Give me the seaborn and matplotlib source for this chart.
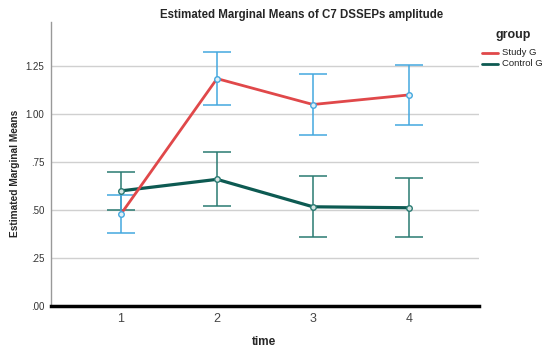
import pandas as pd
import seaborn as sns
import matplotlib.pyplot as plt

times = [1, 2, 3, 4]
groups = ['Study G', 'Control G']
study_mean = [0.48, 1.185, 1.05, 1.10]
study_low = [0.38, 1.045, 0.89, 0.945]
study_high = [0.58, 1.325, 1.21, 1.255]
control_mean = [0.60, 0.66, 0.517, 0.512]
control_low = [0.50, 0.52, 0.361, 0.358]
control_high = [0.70, 0.80, 0.677, 0.667]
y_ticks = [0, 0.25, 0.5, 0.75, 1.0, 1.25]
y_labels = ['.00', '.25', '.50', '.75', '1.00', '1.25']

sns.set_theme(style='white')
plt.rcParams['font.family'] = ['Liberation Sans', 'DejaVu Sans']

df = pd.DataFrame({
    'time': times * 2,
    'mean': study_mean + control_mean,
    'group': [groups[0]] * 4 + [groups[1]] * 4,
})

line_colors = {'Study G': '#e0484a', 'Control G': '#0d5a52'}
err_colors = {'Study G': '#44a8df', 'Control G': '#2a7a72'}
line_widths = {'Study G': 2.0, 'Control G': 2.3}

fig = plt.figure(figsize=(5.5, 3.53), dpi=100)
ax = fig.add_axes([51 / 550, 47 / 353, 428 / 550, 284 / 353])

# error bars first, lines on top
ci = {'Study G': (study_mean, study_low, study_high),
      'Control G': (control_mean, control_low, control_high)}
for g in ['Control G', 'Study G']:
    m, lo, hi = ci[g]
    ax.errorbar(times, m, yerr=[[a - b for a, b in zip(m, lo)], [b - a for a, b in zip(m, hi)]],
                fmt='none', ecolor=err_colors[g], elinewidth=1.1, capsize=10, capthick=1.1, zorder=2)

for g in ['Control G', 'Study G']:
    sub = df[df['group'] == g]
    sns.lineplot(data=sub, x='time', y='mean', color=line_colors[g],
                 linewidth=line_widths[g], ax=ax, legend=False, zorder=3)
for g in groups:
    m = ci[g][0]
    ax.plot(times, m, 'o', ms=4, mfc='#dfeff8' if g == 'Study G' else '#d5e6e3',
            mec=err_colors[g], mew=1.0, zorder=4)

ax.set_xlim(0.27, 4.73)
ax.set_ylim(0, 1.48)
ax.set_xticks(times)
ax.set_xticklabels([str(t) for t in times], fontsize=9, color='#444444')
ax.set_yticks(y_ticks)
ax.set_yticklabels(y_labels, fontsize=7, color='#333333')
ax.tick_params(axis='both', length=0, pad=5)
ax.yaxis.grid(True, color='#d0d0d0', linewidth=1.0)
ax.set_axisbelow(True)

for s in ['top', 'right']:
    ax.spines[s].set_visible(False)
ax.spines['left'].set_color('#999999')
ax.spines['left'].set_linewidth(1.0)
ax.spines['bottom'].set_color('black')
ax.spines['bottom'].set_linewidth(2.5)
ax.spines['bottom'].set_zorder(5)

ax.set_xlabel('')
ax.set_ylabel('')
fig.text(264 / 550, 1 - 342 / 353, 'time', ha='center', va='center', fontsize=8.5, fontweight='bold')
fig.text(15 / 550, 1 - 173 / 353, 'Estimated Marginal Means', ha='center', va='center',
         rotation=90, fontsize=7.3, fontweight='bold')

fig.text(302 / 550, 1 - 15 / 353, 'Estimated Marginal Means of C7 DSSEPs amplitude',
         ha='center', va='center', fontsize=8.3, fontweight='bold')

# legend
fig.text(496 / 550, 1 - 35 / 353, 'group', ha='left', va='center', fontsize=9, fontweight='bold')
for i, g in enumerate(groups):
    yy = 1 - (52.5 + 11.5 * i) / 353
    fig.add_artist(plt.Line2D([482 / 550, 498 / 550], [yy, yy], color=line_colors[g], linewidth=2.0))
    fig.text(502 / 550, yy, g, ha='left', va='center', fontsize=6.8, color='#222222')

fig.savefig('out.png', dpi=100)
